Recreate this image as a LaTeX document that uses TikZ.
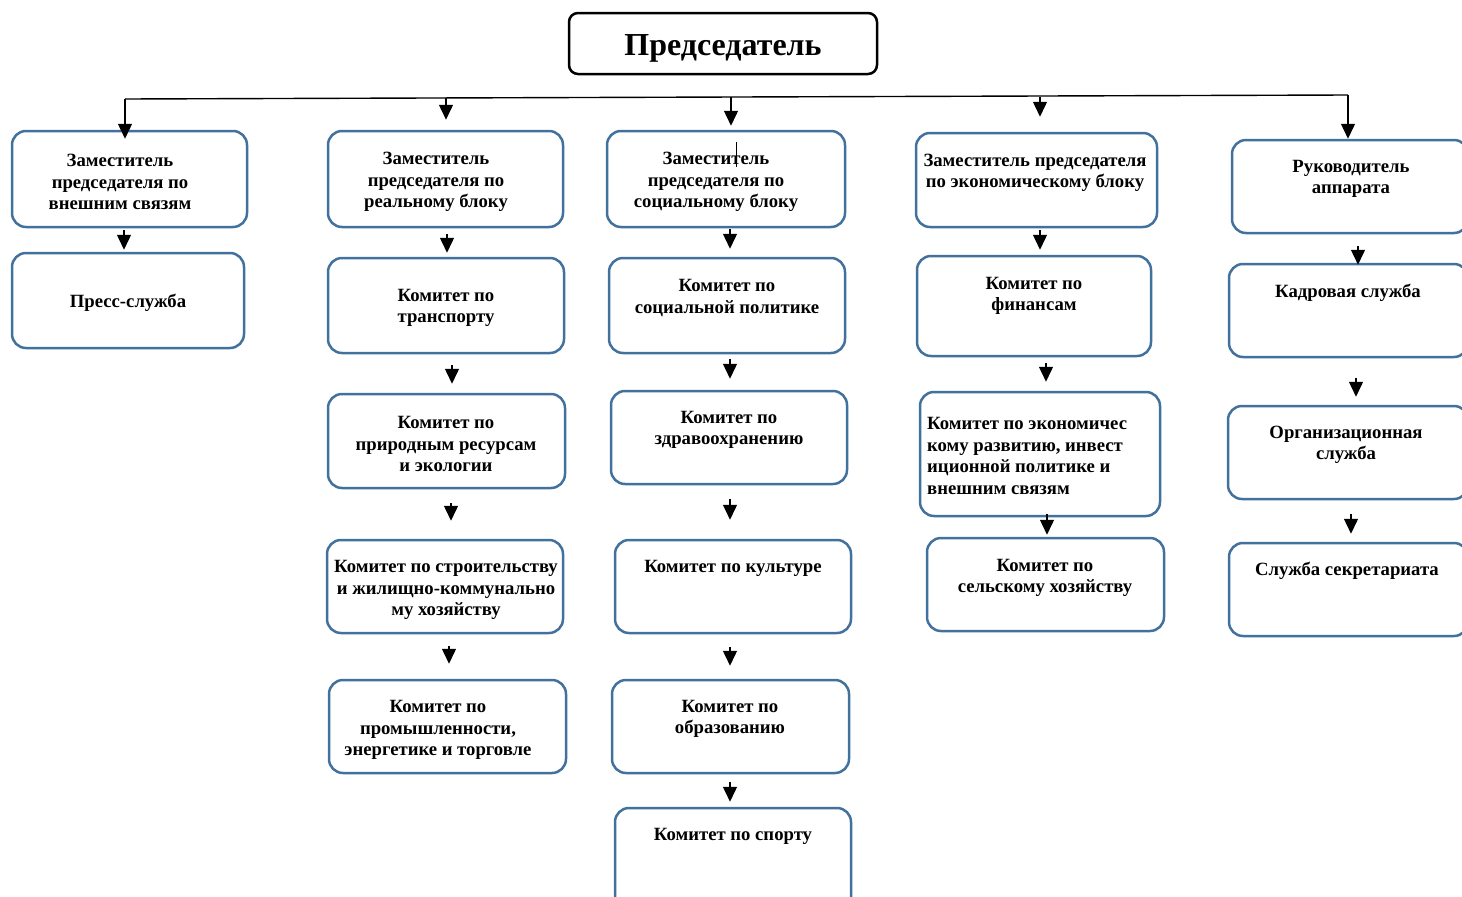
\documentclass[tikz,border=0pt]{standalone}
\usepackage{fontspec}
\setmainfont{Liberation Serif}
\usetikzlibrary{arrows.meta}
\definecolor{boxblue}{RGB}{65,113,156}
\tikzset{
  box/.style={draw=boxblue, line width=2.5pt, rounded corners=14pt, inner sep=0pt, fill=white},
  chair/.style={draw=black, line width=2.5pt, rounded corners=9pt, inner sep=0pt},
  txt/.style={align=center, inner sep=0pt, yshift=-2pt, font=\fontsize{18.7}{21.5}\selectfont\bfseries},
  txtl/.style={align=left, inner sep=0pt, yshift=-2pt, font=\fontsize{18.7}{21.5}\selectfont\bfseries},
  arr/.style={draw=black, line width=1.4pt, -{Triangle[width=14pt,length=15pt]}},
  conn/.style={draw=black, line width=1.4pt}
}
\newcommand\bx[5]{\node[box, minimum width={(#4-#2)*1pt}, minimum height={(#5-#3)*1pt}] (#1) at ({(#2+#4)/2},{(#3+#5)/2}) {};}
\newcommand\stub[5]{\coordinate (x#1) at (#3,0);
  \draw[arr, shorten <=#4pt, shorten >=#5pt] (x#1 |- #1.south) -- (x#1 |- #2.north);}
\begin{document}
\begin{tikzpicture}[x=1pt,y=-1pt]
\useasboundingbox (0,0) rectangle (1462,897);
\clip (0,0) rectangle (1462,897);
\fill[white] (0,0) rectangle (1462,897);

% chairman
\node[chair, minimum width=308pt, minimum height=61pt] (P) at (723,43.5) {};
\node[inner sep=0pt, font=\fontsize{32}{36}\selectfont\bfseries] (Pt) at (723,48) {Председатель};

% boxes
\bx{A1}{12}{131}{247}{227}
\bx{A2}{12}{253}{244}{348}
\bx{B1}{328}{131}{563}{227}
\bx{B2}{328}{258}{564}{353}
\bx{B3}{328}{394}{565}{488}
\bx{B4}{327}{540}{563}{633}
\bx{B5}{329}{680}{566}{773}
\bx{C1}{607}{131}{845}{227}
\bx{C2}{609}{258}{845}{353}
\bx{C3}{611}{391}{847}{484}
\bx{C4}{615}{540}{851}{633}
\bx{C5}{612}{680}{849}{773}
\bx{C6}{615}{808}{851}{912}
\bx{D1}{916}{133}{1157}{227}
\bx{D2}{917}{256}{1151}{356}
\bx{D3}{920}{392}{1160}{516}
\bx{D4}{927}{538}{1164}{631}
\bx{E1}{1232}{140}{1468}{233}
\bx{E2}{1229}{264}{1468}{357}
\bx{E3}{1228}{406}{1468}{499}
\bx{E4}{1229}{543}{1468}{636}

% texts
\node[txt] (A1t) at (120,180) {Заместитель\\председателя по\\внешним связям};
\node[txt] (A2t) at (128,301) {Пресс-служба};
\node[txt] (B1t) at (436,180) {Заместитель\\председателя по\\реальному блоку};
\node[txt] (B2t) at (446,306) {Комитет по\\транспорту};
\node[txt] (B3t) at (446,442) {Комитет по\\природным ресурсам\\и экологии};
\node[txt] (B4t) at (446,588) {Комитет по строительству\\и жилищно-коммунально\\му хозяйству};
\node[txt] (B5t) at (438,728) {Комитет по\\промышленности,\\энергетике и торговле};
\node[txt] (C1t) at (716,180) {Заместитель\\председателя по\\социальному блоку};
\node[txt] (C2t) at (727,296) {Комитет по\\социальной политике};
\node[txt] (C3t) at (729,428) {Комитет по\\здравоохранению};
\node[txt] (C4t) at (733,566) {Комитет по культуре};
\node[txt] (C5t) at (730,717) {Комитет по\\образованию};
\node[txt] (C6t) at (733,834) {Комитет по спорту};
\node[txt] (D1t) at (1035,171) {Заместитель председателя\\по экономическому блоку};
\node[txt] (D2t) at (1034,294) {Комитет по\\финансам};
\node[txtl, anchor=west] (D3t) at (927,454) {Комитет по экономичес\\кому развитию, инвест\\иционной политике и\\внешним связям};
\node[txt] (D4t) at (1045,576) {Комитет по\\сельскому хозяйству};
\node[txt] (E1t) at (1351,177) {Руководитель\\аппарата};
\node[txt] (E2t) at (1348,291) {Кадровая служба};
\node[txt] (E3t) at (1346,443) {Организационная\\служба};
\node[txt] (E4t) at (1347,569) {Служба секретариата};

% cursor mark in C1
\draw[line width=0.8pt] (736,142) -- (736,167);

% top distribution line
\coordinate (L) at (125,99);
\coordinate (R) at (1348,95);
\coordinate (T2) at (446,98);
\coordinate (T3) at (731,97);
\coordinate (T4) at (1040,96.5);
\draw[conn] (L) -- (R);
\draw[arr, shorten >=-9pt] (L) -- (L |- A1.north);
\draw[arr, shorten >=10pt] (T2) -- (T2 |- B1.north);
\draw[arr, shorten >=4pt] (T3) -- (T3 |- C1.north);
\draw[arr, shorten >=15pt] (T4) -- (T4 |- D1.north);
\draw[arr] (R) -- (R |- E1.north);

% column connectors
\stub{A1}{A2}{124}{2}{2}
\stub{B1}{B2}{447}{6}{4}
\stub{B2}{B3}{452}{11}{9}
\stub{B3}{B4}{451}{14}{18}
\stub{B4}{B5}{449}{12}{15}
\stub{C1}{C2}{730}{1}{8}
\stub{C2}{C3}{730}{5}{11}
\stub{C3}{C4}{730}{14}{19}
\stub{C4}{C5}{730}{13}{13}
\stub{C5}{C6}{730}{8}{5}
\stub{D1}{D2}{1040}{2}{5}
\stub{D2}{D3}{1046}{6}{9}
\stub{D3}{D4}{1047}{-3}{2}
\stub{E1}{E2}{1358}{12}{-2}
\stub{E2}{E3}{1356}{20}{8}
\stub{E3}{E4}{1351}{14}{8}
\end{tikzpicture}
\end{document}
